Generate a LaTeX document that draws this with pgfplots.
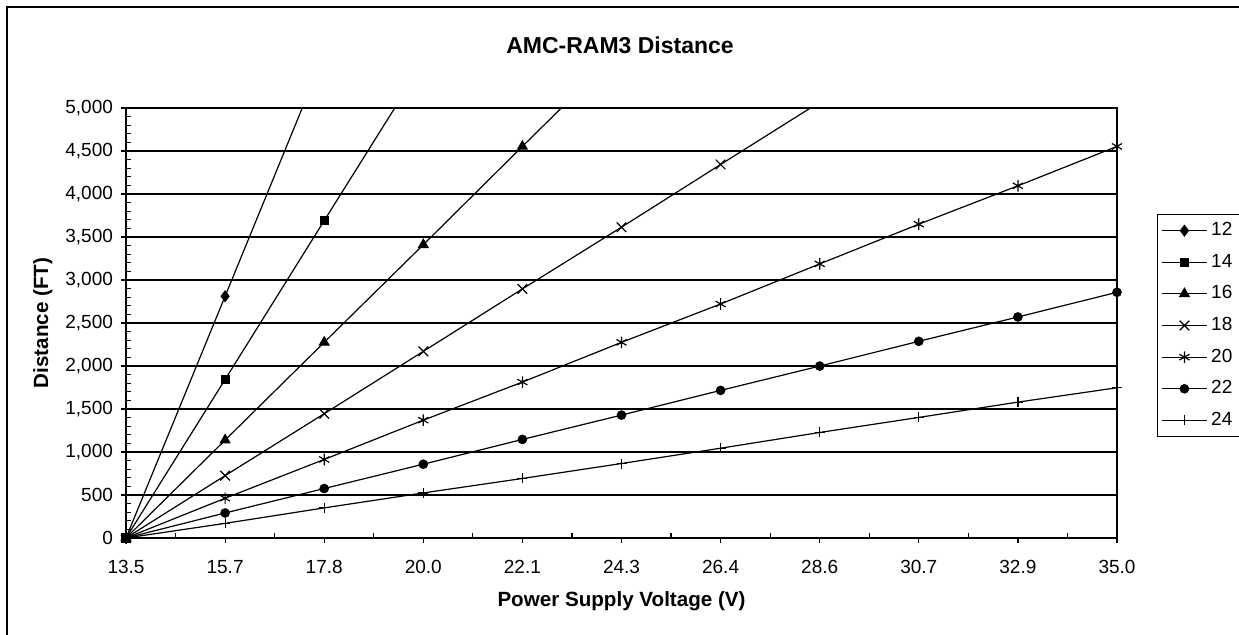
\documentclass[border=0pt]{standalone}
\usepackage{pgfplots}
\pgfplotsset{compat=1.18}
\usepackage{fontspec}
\setmainfont{Liberation Sans}
\begin{document}
\begin{tikzpicture}
\path[use as bounding box] (0,0) rectangle (619.5pt,317.5pt);
\draw[line width=0.9pt] (3.5pt,-1pt) -- (3.5pt,314pt) -- (621pt,314pt);
\node[font=\fontsize{11.5}{13}\selectfont\bfseries] at (310pt,295pt) {AMC-RAM3 Distance};
\begin{axis}[
  at={(63pt,48.5pt)}, anchor=south west,
  scale only axis, width=495.5pt, height=215pt,
  xmin=0, xmax=10, ymin=0, ymax=5000,
  xtick={0,...,10},
  xticklabels={13.5,15.7,17.8,20.0,22.1,24.3,26.4,28.6,30.7,32.9,35.0},
  minor x tick num=1,
  ytick={0,500,...,5000},
  minor y tick num=4,
  scaled y ticks=false,
  xtick pos=bottom, ytick pos=left,
  tick align=inside,
  major tick length=-2.6pt,
  minor tick length=2.4pt,
  axis line style={line width=0.9pt},
  every tick/.style={black, line width=0.6pt},
  ymajorgrids,
  major grid style={black, line width=0.7pt},
  /pgf/number format/assume math mode=true,
  yticklabel style={/pgf/number format/fixed, /pgf/number format/1000 sep={,}, xshift=-3pt},
  xticklabel style={yshift=-7.5pt},
  tick label style={font=\fontsize{9.5}{11}\selectfont},
  xlabel={Power Supply Voltage (V)},
  ylabel={Distance (FT)},
  label style={font=\fontsize{10.3}{12}\selectfont\bfseries},
  x label style={at={(axis description cs:0.5,-0.148)}, anchor=center},
  y label style={at={(axis description cs:-0.0840,0.5)}, anchor=center},
  legend style={at={(axis description cs:1.0404,0.494)}, anchor=west,
    draw=black, line width=0.6pt, font=\fontsize{9.5}{11}\selectfont,
    row sep=3.7pt, inner sep=2pt, cells={anchor=west}},
  legend image code/.code={
    \draw[mark repeat=2,mark phase=2,#1] plot coordinates {(0cm,0cm) (0.39cm,0cm) (0.78cm,0cm)};
  },
]
\addplot[black, line width=0.6pt, mark=diamond*, mark size=2.6pt, mark options={solid}] coordinates {(0,0) (1,2811) (2,5622)};
\addlegendentry{12}
\addplot[black, line width=0.6pt, mark=square*, mark size=2pt, mark options={solid}] coordinates {(0,0) (1,1843) (2,3690) (3,5530)};
\addlegendentry{14}
\addplot[black, line width=0.6pt, mark=triangle*, mark size=2.7pt, mark options={solid}] coordinates {(0,0) (1,1138) (2,2275) (3,3410) (4,4553) (5,5690)};
\addlegendentry{16}
\addplot[black, line width=0.6pt, mark=x, mark size=3.4pt, mark options={solid}] coordinates {(0,0) (1,725) (2,1445) (3,2170) (4,2896) (5,3614) (6,4343) (7,5068)};
\addlegendentry{18}
\addplot[black, line width=0.6pt, mark=asterisk, mark size=2.9pt, mark options={solid}] coordinates {(0,0) (1,462) (2,913) (3,1370) (4,1813) (5,2275) (6,2721) (7,3187) (8,3649) (9,4095) (10,4553)};
\addlegendentry{20}
\addplot[black, line width=0.6pt, mark=*, mark size=2.1pt, mark options={solid}] coordinates {(0,0) (1,291) (2,575) (3,858) (4,1146) (5,1429) (6,1716) (7,1999) (8,2287) (9,2570) (10,2857)};
\addlegendentry{22}
\addplot[black, line width=0.6pt, mark=+, mark size=2.5pt, mark options={solid}] coordinates {(0,0) (1,170) (2,350) (3,524) (4,692) (5,866) (6,1044) (7,1227) (8,1402) (9,1580) (10,1747)};
\addlegendentry{24}
\end{axis}
\end{tikzpicture}
\end{document}
